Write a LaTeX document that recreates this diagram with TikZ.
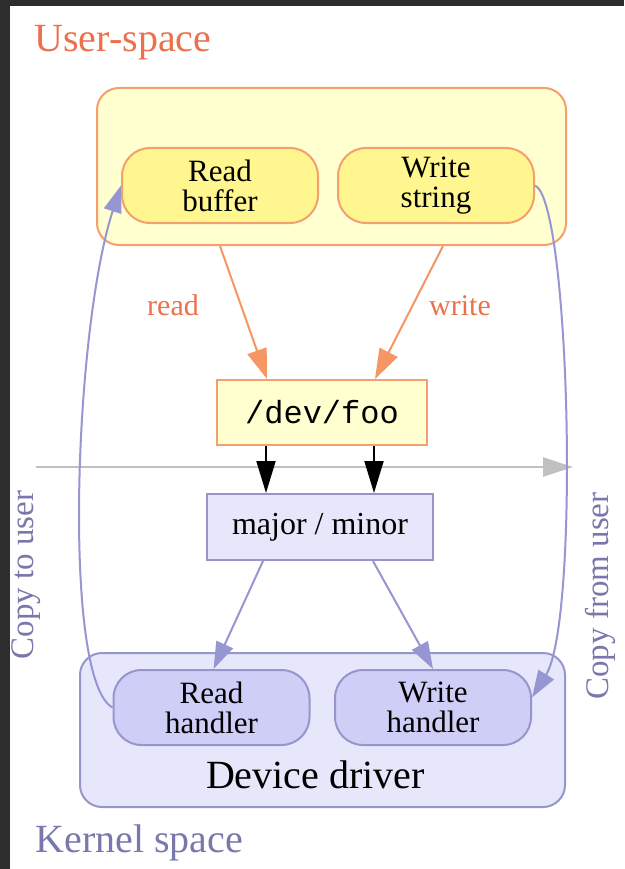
\documentclass[tikz,border=0pt]{standalone}
\usepackage{fontspec}
\setmainfont{Liberation Serif}
\setmonofont{Liberation Mono}
\usetikzlibrary{positioning}
\usetikzlibrary{arrows.meta}

\definecolor{bgdark}{RGB}{45,45,45}
\definecolor{usrtext}{RGB}{236,112,76}
\definecolor{uline}{RGB}{244,160,110}
\definecolor{uarr}{RGB}{245,150,100}
\definecolor{uout}{RGB}{255,255,208}
\definecolor{uin}{RGB}{255,246,143}
\definecolor{kline}{RGB}{150,150,205}
\definecolor{karr}{RGB}{150,150,210}
\definecolor{kout}{RGB}{231,231,251}
\definecolor{kin}{RGB}{206,206,246}
\definecolor{ktext}{RGB}{120,120,172}
\definecolor{gline}{RGB}{192,192,192}

\begin{document}
\begin{tikzpicture}[x=1pt,y=-1pt,
		ubox/.style={rectangle,rounded corners=22pt,draw=uline,fill=uout,line width=2pt},
		kbox/.style={rectangle,rounded corners=22pt,draw=kline,fill=kout,line width=2pt},
		unode/.style={rectangle,rounded corners=28pt,draw=uline,fill=uin,line width=2pt,minimum width=196pt,minimum height=75pt,inner sep=0pt,align=center,font=\fontsize{31}{30}\selectfont},
		knode/.style={unode,draw=kline,fill=kin},
		title/.style={anchor=base west,font=\fontsize{40}{40}\selectfont},
		elabel/.style={anchor=base,text=usrtext,font=\fontsize{30}{30}\selectfont},
		side/.style={rotate=90,anchor=base,text=ktext,font=\fontsize{33}{33}\selectfont},
		oarr/.style={draw=uarr,line width=2pt,-{Triangle[length=30pt,width=20pt]}},
		parr/.style={draw=karr,line width=2pt,-{Triangle[length=27pt,width=18pt]}},
		barr/.style={draw=black,line width=2pt,-{Triangle[length=32pt,width=19pt]}},
	]
		\useasboundingbox (0,0) rectangle (624,869);
		\fill[bgdark] (0,0) rectangle (624,869);
		\fill[white] (10,6) rectangle (624,869);

		\node (uttl) [title,text=usrtext] at (31,52) {User-space};
		\node (uspc) [ubox,minimum width=469pt,minimum height=157pt] at (331.5,166.5) {};
		\node (rbuf) [unode] at (220,185.5) {Read\\buffer};
		\node (wstr) [unode] at (436,185.5) {Write\\string};

		\node (dfoo) [rectangle,draw=uline,fill=uout,line width=2pt,minimum width=210pt,minimum height=65pt,font=\ttfamily\fontsize{32}{32}\selectfont] at (322,412.5) {/dev/foo};
		\node (mjmn) [rectangle,draw=kline,fill=kout,line width=2pt,minimum width=226pt,minimum height=66pt,font=\fontsize{32}{32}\selectfont] at (320,527) {major / minor};

		\node (kdrv) [kbox,minimum width=485pt,minimum height=154pt] at (322.5,730) {};
		\node (rhnd) [knode] at (211.5,707.5) {Read\\handler};
		\node (whnd) [knode] at (433,707.5) {Write\\handler};
		\node (ddrv) [anchor=base,font=\fontsize{40}{40}\selectfont] at (315.5,788) {Device driver};
		\node (kttl) [title,text=ktext] at (32,852) {Kernel space};

		\node (tusr) [side] at (33,575) {Copy to user};
		\node (fusr) [side] at (608,596) {Copy from user};
		\node (lrd) [elabel] at (173,315) {read};
		\node (lwr) [elabel] at (460,315) {write};

		\coordinate (glft) at (36,467);
		\coordinate (grgt) at (573,467);
		\draw (glft) edge[draw=gline,line width=2.5pt,-{Triangle[length=30pt,width=19pt]}] (grgt);

		\draw (rbuf.south |- uspc.south) edge[oarr] ([xshift=-55pt]dfoo.north);
		\draw ([xshift=7pt]wstr.south |- uspc.south) edge[oarr] ([xshift=53pt]dfoo.north);
		\draw ([xshift=-56pt]dfoo.south) edge[barr] ([xshift=-56pt]dfoo.south |- mjmn.north);
		\draw ([xshift=52pt]dfoo.south) edge[barr] ([xshift=52pt]dfoo.south |- mjmn.north);
		\draw ([xshift=-57pt]mjmn.south) edge[parr] ([xshift=2pt]rhnd.north);
		\draw ([xshift=53pt]mjmn.south) edge[parr] (whnd.north);

		\draw[parr] (rhnd.west) .. controls (62,680) and (74,330) .. (rbuf.west);
		\draw[parr] (wstr.east) .. controls (570,200) and (580,620) .. ([yshift=10pt]whnd.east);
	\end{tikzpicture}
\end{document}
